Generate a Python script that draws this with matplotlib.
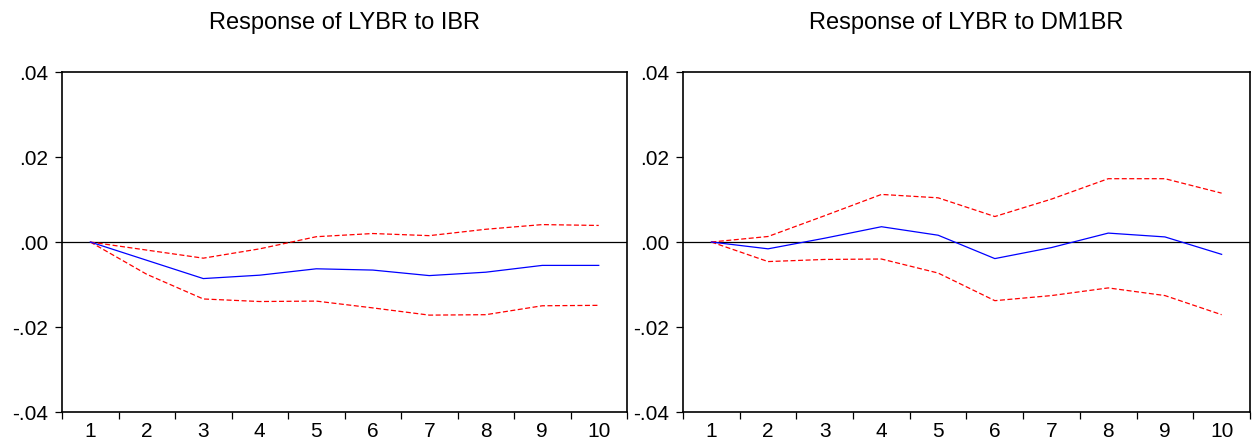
import matplotlib.pyplot as plt
import numpy as np

plt.rcParams['font.family'] = ['Liberation Sans', 'DejaVu Sans']

periods = np.arange(1, 11)

# Response of LYBR to IBR
ibr_resp = [0.0, -0.0043, -0.0086, -0.0078, -0.0063, -0.0066, -0.0079, -0.0071, -0.0055, -0.0055]
ibr_upper = [0.0, -0.0019, -0.0038, -0.0016, 0.00125, 0.0020, 0.0015, 0.0030, 0.0041, 0.0039]
ibr_lower = [0.0, -0.0076, -0.0134, -0.0140, -0.0139, -0.0155, -0.0172, -0.0171, -0.0150, -0.0149]

# Response of LYBR to DM1BR
dm1_resp = [0.0, -0.0016, 0.0009, 0.0036, 0.0016, -0.0039, -0.0013, 0.0021, 0.0012, -0.0029]
dm1_upper = [0.0, 0.0013, 0.0062, 0.0112, 0.0104, 0.0060, 0.0101, 0.0149, 0.0149, 0.0115]
dm1_lower = [0.0, -0.0046, -0.0041, -0.0040, -0.0073, -0.0138, -0.0126, -0.0108, -0.0126, -0.0171]

titles = ['Response of LYBR to IBR', 'Response of LYBR to DM1BR']
yticks = [-0.04, -0.02, 0.0, 0.02, 0.04]
ytick_labels = ['-.04', '-.02', '.00', '.02', '.04']

fig = plt.figure(figsize=(12.56, 4.46), dpi=100)
ax1 = fig.add_axes([0.0494, 0.0762, 0.4498, 0.7623])
ax2 = fig.add_axes([0.5438, 0.0762, 0.4514, 0.7623])

panels = [(ax1, ibr_resp, ibr_upper, ibr_lower), (ax2, dm1_resp, dm1_upper, dm1_lower)]
for (ax, resp, up, lo), title in zip(panels, titles):
    ax.axhline(0, color='black', lw=0.9)
    ax.plot(periods, up, color='#ff0000', lw=0.9, ls=(0, (4, 2)))
    ax.plot(periods, lo, color='#ff0000', lw=0.9, ls=(0, (4, 2)))
    ax.plot(periods, resp, color='#0000ff', lw=0.9)
    ax.set_xlim(0.5, 10.5)
    ax.set_ylim(-0.04, 0.04)
    ax.set_yticks(yticks)
    ax.set_yticklabels(ytick_labels)
    ax.set_xticks(np.arange(0.5, 11, 1))
    ax.set_xticklabels([])
    ax.set_xticks(periods, minor=True)
    ax.set_xticklabels([str(p) for p in periods], minor=True)
    ax.tick_params(axis='x', which='major', length=5, width=0.9, direction='out')
    ax.tick_params(axis='x', which='minor', length=0, pad=7, labelsize=15)
    ax.tick_params(axis='y', length=5, width=0.9, direction='out', labelsize=15, pad=5)
    for s in ax.spines.values():
        s.set_linewidth(1.2)
    ax.set_title(title, fontsize=17, pad=31)

plt.savefig('out.png', dpi=100)
